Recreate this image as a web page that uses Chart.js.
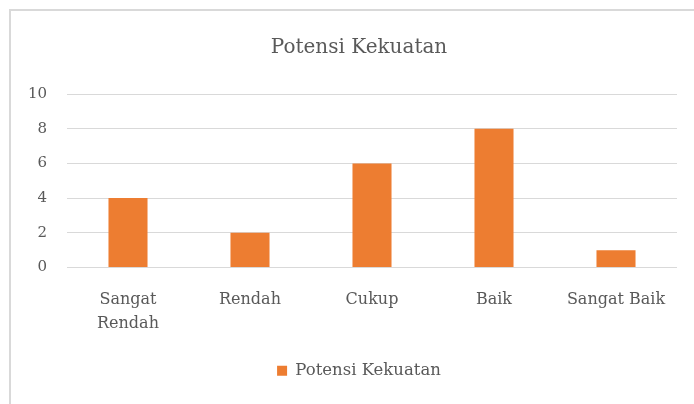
<!DOCTYPE html>
<html>
<head>
<meta charset="utf-8">
<script src="https://cdn.jsdelivr.net/npm/chart.js@4"></script>
<style>
  html, body { margin: 0; padding: 0; background: #fff; overflow: hidden; }
  #wrap { position: relative; width: 694px; height: 404px; overflow: hidden; }
  #frame { position: absolute; left: 9px; top: 9px; width: 720px; height: 400px;
           border-top: 2px solid #d9d9d9; border-left: 2px solid #d9d9d9; box-sizing: border-box; }
  canvas { position: absolute; left: 0; top: 0; }
</style>
</head>
<body>
<div id="wrap">
  <div id="frame"></div>
  <canvas id="chart" width="718" height="404"></canvas>
</div>
<script>
var categories = [["Sangat", "Rendah"], "Rendah", "Cukup", "Baik", "Sangat Baik"];
var seriesLabel = "Potensi Kekuatan";
var seriesValues = [4, 2, 6, 8, 1];
var yTicks = [0, 2, 4, 6, 8, 10];

var fontFamily = "'DejaVu Serif', serif";
var textColor = "#595959";
var barColor = "#ED7D31";

Chart.defaults.font.family = fontFamily;
Chart.defaults.color = textColor;

var ctx = document.getElementById("chart").getContext("2d");
var chart = new Chart(ctx, {
    type: "bar",
    data: {
        labels: categories,
        datasets: [{
            label: seriesLabel,
            data: seriesValues,
            backgroundColor: barColor,
            borderWidth: 0,
            barPercentage: 1,
            categoryPercentage: 0.32
        }]
    },
    options: {
        responsive: false,
        animation: false,
        layout: { padding: { left: 0, right: 0, top: 0, bottom: 15 } },
        plugins: {
            title: {
                display: true,
                text: seriesLabel,
                color: textColor,
                font: { size: 20, weight: "normal" },
                padding: { top: 36, bottom: 34 }
            },
            legend: {
                position: "bottom",
                labels: {
                    boxWidth: 10,
                    boxHeight: 10,
                    padding: 10,
                    color: textColor,
                    font: { size: 16.5 }
                }
            },
            tooltip: { enabled: false }
        },
        scales: {
            x: {
                grid: { display: false },
                border: { display: false },
                ticks: { padding: 12, font: { size: 16, lineHeight: 1.5 }, color: textColor, maxRotation: 0 },
                afterFit: function (scale) { scale.height = 85; }
            },
            y: {
                min: 0,
                max: 10,
                afterBuildTicks: function (scale) {
                    scale.ticks = yTicks.map(function (v) { return { value: v }; });
                },
                grid: { color: "#d9d9d9", lineWidth: 1, drawTicks: false },
                border: { display: false },
                ticks: { padding: 20, font: { size: 15 }, color: textColor },
                afterFit: function (scale) { scale.width = 67; }
            },
            // empty right-hand gutter so the plot ends where the reference's does
            gutter: {
                type: "linear",
                position: "right",
                grid: { display: false, drawTicks: false },
                border: { display: false },
                ticks: { display: false },
                afterFit: function (scale) { scale.width = 41; }
            }
        }
    }
});
</script>
</body>
</html>
